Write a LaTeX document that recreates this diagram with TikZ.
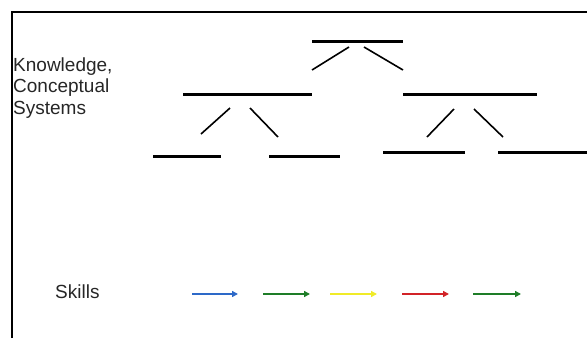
\documentclass[tikz,border=0pt]{standalone}
\usepackage{fontspec}
\setmainfont{Liberation Sans}
\usepackage{tikz}
\usetikzlibrary{arrows.meta}

\definecolor{skblue}{RGB}{45,105,200}
\definecolor{skgreen}{RGB}{30,125,40}
\definecolor{skyellow}{RGB}{240,235,40}
\definecolor{skred}{RGB}{210,35,40}

\tikzset{
  bar/.style={line width=3pt},
  twig/.style={line width=1.6pt},
  skill/.style={line width=2.2pt,-{Triangle[length=6pt,width=6pt]}},
  label/.style={inner sep=0pt,anchor=west,align=left,text=black!85,font=\fontsize{19}{21.5}\selectfont}
}

\begin{document}
\begin{tikzpicture}[x=1pt,y=-1pt]
\useasboundingbox (0,0) rectangle (587,338);

    \draw[line width=2.5pt] (12,338) -- (12,12) -- (587,12);

    \node[label] (know) at (13,88) {Knowledge,\\Conceptual\\Systems};
    \node[label] (skills) at (55,292) {Skills};

% top level
\draw[bar] (312,41) -- (403,41);
\draw[twig] (349,47) -- (312,70);
\draw[twig] (364,47) -- (403,70);
% second level
\draw[bar] (183,94) -- (312,94);
\draw[bar] (403,94) -- (537,94);
\draw[twig] (230,108) -- (201,134);
\draw[twig] (250,108) -- (278,137);
\draw[twig] (454,109) -- (427,137);
\draw[twig] (474,109) -- (503,137);
% bottom level
\draw[bar] (153,156) -- (221,156);
\draw[bar] (269,156) -- (340,156);
\draw[bar] (383,152) -- (465,152);
\draw[bar] (498,152) -- (587,152);

% skills
\draw[skill,skblue] (192,294) -- (238,294);
\draw[skill,skgreen] (263,294) -- (310,294);
\draw[skill,skyellow] (330,294) -- (377,294);
\draw[skill,skred] (402,294) -- (449,294);
\draw[skill,skgreen] (473,294) -- (521,294);
\end{tikzpicture}
\end{document}
